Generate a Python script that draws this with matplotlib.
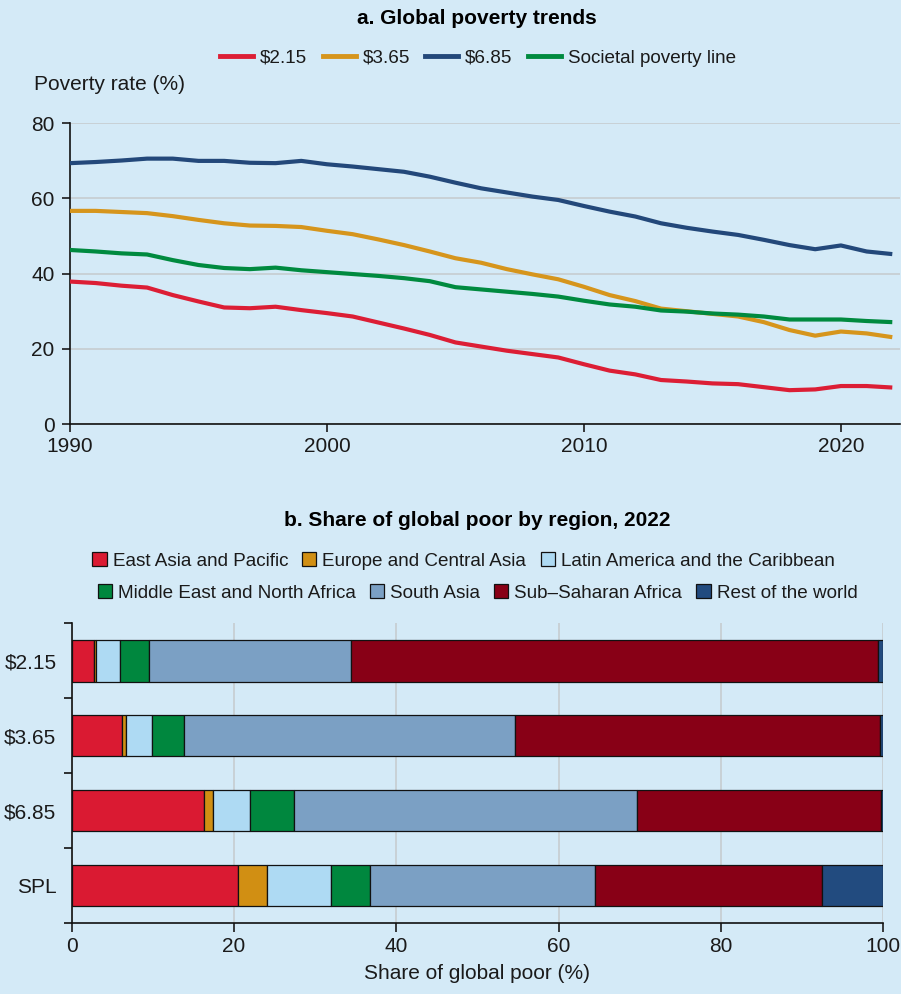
import numpy as np
import matplotlib
matplotlib.use("Agg")
import matplotlib.pyplot as plt
from matplotlib.patches import Patch
from matplotlib.lines import Line2D

plt.rcParams['font.family'] = ['Liberation Sans', 'DejaVu Sans']

# ---- data: panel a
years = list(range(1990, 2023))
pov_215 = [37.9, 37.5, 36.8, 36.3, 34.3, 32.6, 31.0, 30.8, 31.2, 30.3, 29.5,
           28.6, 27.0, 25.4, 23.7, 21.7, 20.6, 19.5, 18.6, 17.7, 15.9, 14.2,
           13.2, 11.7, 11.3, 10.8, 10.6, 9.8, 9.0, 9.2, 10.1, 10.1, 9.7]
pov_365 = [56.7, 56.7, 56.4, 56.1, 55.3, 54.3, 53.4, 52.8, 52.7, 52.4, 51.4,
           50.5, 49.1, 47.6, 45.9, 44.1, 42.9, 41.2, 39.8, 38.5, 36.5, 34.3,
           32.7, 30.7, 30.0, 29.3, 28.6, 27.1, 25.0, 23.5, 24.6, 24.1, 23.1]
pov_685 = [69.4, 69.7, 70.1, 70.6, 70.6, 70.0, 70.0, 69.5, 69.4, 70.0, 69.1,
           68.5, 67.8, 67.1, 65.8, 64.2, 62.7, 61.6, 60.5, 59.6, 58.0, 56.5,
           55.2, 53.4, 52.2, 51.2, 50.3, 49.0, 47.6, 46.5, 47.5, 45.9, 45.2]
pov_spl = [46.3, 45.9, 45.4, 45.1, 43.6, 42.3, 41.5, 41.2, 41.6, 40.9, 40.4,
           39.9, 39.4, 38.8, 38.0, 36.4, 35.8, 35.2, 34.6, 33.9, 32.8, 31.8,
           31.2, 30.2, 29.9, 29.4, 29.1, 28.6, 27.8, 27.8, 27.8, 27.4, 27.1]
line_labels = ['$2.15', '$3.65', '$6.85', 'Societal poverty line']

# ---- data: panel b
bar_cats = ['$2.15', '$3.65', '$6.85', 'SPL']
regions = ['East Asia and Pacific', 'Europe and Central Asia',
           'Latin America and the Caribbean', 'Middle East and North Africa',
           'South Asia', 'Sub\u2013Saharan Africa', 'Rest of the world']
eap = [2.7, 6.25, 16.25, 20.5]
eca = [0.3, 0.5, 1.15, 3.6]
lac = [3.0, 3.2, 4.55, 7.9]
mena = [3.5, 3.85, 5.5, 4.7]
sas = [24.9, 40.8, 42.25, 27.8]
ssa = [64.9, 45.0, 30.05, 27.9]
row = [0.7, 0.4, 0.25, 7.6]
shares = [eap, eca, lac, mena, sas, ssa, row]

bg = '#D4EAF7'
line_colors = ['#DC1E35', '#D6951C', '#23487A', '#008A3F']
reg_colors = ['#DA1A32', '#D18F13', '#AEDAF3', '#00873E', '#7BA0C4', '#880016', '#224B7F']
grid_c = '#C6CCD0'
txt_c = '#1A1A1A'
fs = 15      # tick / axis labels
fs_leg = 13.6
fs_title = 15

def esc(s):
    return s.replace('$', r'\$')

fig = plt.figure(figsize=(9.01, 9.94), dpi=100, facecolor=bg)

# ================= panel a
ax1 = fig.add_axes([70/901, 1-424/994, 830/901, 300.7/994], facecolor=bg)
for vals, c in zip([pov_215, pov_365, pov_685, pov_spl], line_colors):
    ax1.plot(years, vals, color=c, lw=3, solid_capstyle='butt', zorder=3)
ax1.set_xlim(1990, 2022.3)
ax1.set_ylim(0, 80)
ax1.set_yticks([0, 20, 40, 60, 80])
ax1.set_xticks([1990, 2000, 2010, 2020])
ax1.yaxis.grid(True, color=grid_c, lw=1.2, zorder=0)
ax1.set_axisbelow(True)
for s in ['top', 'right']:
    ax1.spines[s].set_visible(False)
for s in ['left', 'bottom']:
    ax1.spines[s].set_linewidth(1.2)
    ax1.spines[s].set_color('#111111')
ax1.tick_params(axis='y', labelsize=fs, colors=txt_c, length=6, width=1.2, pad=5)
ax1.tick_params(axis='x', labelsize=fs, colors=txt_c, length=6, width=1.2, pad=3.5)
fig.text(34/901, 1-85/994, 'Poverty rate (%)', fontsize=fs, color=txt_c, va='center', ha='left')
fig.text(477/901, 1-18/994, 'a. Global poverty trends', fontsize=fs_title, fontweight='bold',
         ha='center', va='center', color='black')
handles = [Line2D([0], [0], color=c, lw=3.5) for c in line_colors]
fig.legend(handles, [esc(l) for l in line_labels], loc='center', bbox_to_anchor=(0.5305, 1-58/994),
           ncol=4, frameon=False, fontsize=fs_leg, handlelength=1.75, handletextpad=0.36,
           columnspacing=0.82, labelcolor=txt_c, borderpad=0.1)

# ================= panel b
ax2 = fig.add_axes([71.7/901, 1-923/994, 811.6/901, 299.7/994], facecolor=bg)
ypos = np.arange(len(bar_cats))
left = np.zeros(len(bar_cats))
for vals, c in zip(shares, reg_colors):
    ax2.barh(ypos, vals, left=left, height=0.555, color=c, edgecolor='#111111', lw=0.9, zorder=3)
    left += np.array(vals)
ax2.set_xlim(0, 100)
ax2.set_ylim(3.5, -0.5)
ax2.set_xticks([0, 20, 40, 60, 80, 100])
ax2.xaxis.grid(True, color=grid_c, lw=1.2, zorder=0)
ax2.set_axisbelow(True)
ax2.set_yticks(ypos)
ax2.set_yticklabels([esc(c) for c in bar_cats])
ax2.set_yticks(np.arange(-0.5, 4.0, 1.0), minor=True)
ax2.tick_params(axis='y', which='major', length=0, pad=11, labelsize=fs, colors=txt_c)
ax2.tick_params(axis='y', which='minor', length=6, width=1.2, colors='#111111')
ax2.tick_params(axis='x', labelsize=fs, colors=txt_c, length=6.5, width=1.2, pad=3.5)
for s in ['top', 'right']:
    ax2.spines[s].set_visible(False)
for s in ['left', 'bottom']:
    ax2.spines[s].set_linewidth(1.2)
    ax2.spines[s].set_color('#111111')
ax2.set_xlabel('Share of global poor (%)', fontsize=fs, color=txt_c, labelpad=6)
fig.text(477/901, 1-520/994, 'b. Share of global poor by region, 2022', fontsize=fs_title,
         fontweight='bold', ha='center', va='center', color='black')
ph = [Patch(facecolor=c, edgecolor='#111111', lw=0.9) for c in reg_colors]
leg_kw = dict(loc='center', frameon=False, fontsize=fs_leg, handlelength=0.75, handleheight=0.75,
              handletextpad=0.32, columnspacing=0.75, labelcolor=txt_c, borderpad=0.1)
fig.legend(ph[:3], regions[:3], bbox_to_anchor=(463.5/901, 1-561/994), ncol=3, **leg_kw)
fig.legend(ph[3:], regions[3:], bbox_to_anchor=(477.5/901, 1-593/994), ncol=4, **leg_kw)

fig.savefig('out.png', dpi=100, facecolor=bg)
